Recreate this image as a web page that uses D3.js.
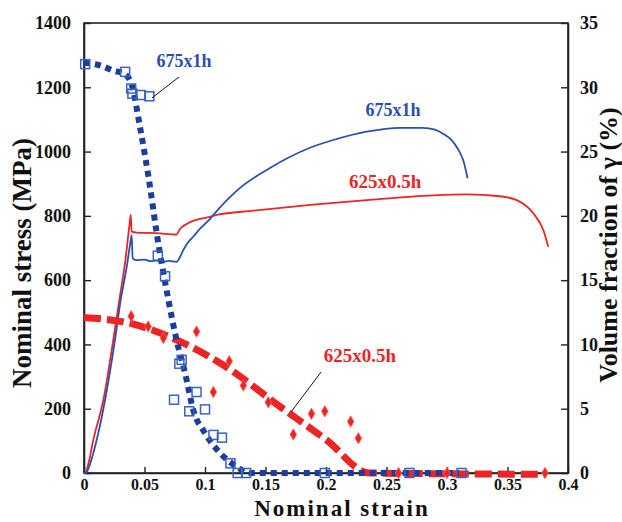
<!DOCTYPE html>
<html><head><meta charset="utf-8">
<script src="https://cdn.jsdelivr.net/npm/d3@7"></script>
<style>
html,body{margin:0;padding:0;background:#fff;}
text{font-family:"Liberation Serif","Times New Roman",serif;font-weight:bold;}
</style></head>
<body>
<svg id="chart" width="622" height="522"></svg>
<script>
// ---- data ----
const xTicks = [0,0.05,0.1,0.15,0.2,0.25,0.3,0.35,0.4];
const xTickLabels = ["0","0.05","0.1","0.15","0.2","0.25","0.3","0.35","0.4"];
const yTicks = [0,200,400,600,800,1000,1200,1400];
const y2Ticks = [0,5,10,15,20,25,30,35];

// stress-strain curve 675x1h [strain, MPa]
const stress675 = [[0,0],[0.002,2],[0.006,40],[0.0105,103],[0.0174,227],[0.0256,414],[0.0303,538],[0.0353,641],[0.0386,724],[0.0394,740],[0.0402,668],[0.0436,662],[0.05,664],[0.055,659],[0.06,661],[0.065,657],[0.07,660],[0.0766,657],[0.0788,668],[0.0821,694],[0.0849,712],[0.0903,735],[0.0959,760],[0.104,790],[0.1097,815],[0.129,887],[0.151,943],[0.1868,1012],[0.206,1036],[0.2336,1062],[0.2612,1074],[0.28,1074],[0.29,1068],[0.297,1055],[0.304,1035],[0.309,1008],[0.3135,972],[0.317,917]];
// stress-strain curve 625x0.5h
const stress625 = [[0,0],[0.001,0],[0.004,35],[0.0077,103],[0.016,227],[0.0242,414],[0.0292,538],[0.0339,653],[0.0374,766],[0.0386,803],[0.0394,751],[0.0436,748],[0.06,746],[0.0766,742],[0.0793,759],[0.0849,775],[0.095,790],[0.104,797],[0.1097,803],[0.14,816],[0.187,834],[0.2336,849],[0.2887,864],[0.3163,867],[0.3438,861],[0.3576,849],[0.3713,808],[0.3796,756],[0.3837,704]];

// retained austenite fit lines [strain, %]
const fit675 = [[0,31.9],[0.0132,31.7],[0.0242,31.3],[0.034,31.0],[0.0394,30.2],[0.0463,26.9],[0.0545,22.3],[0.060,18.7],[0.0697,13.5],[0.0766,10.3],[0.0835,7.8],[0.0903,4.9],[0.100,3.1],[0.1124,1.56],[0.126,0.5],[0.137,0],[0.31,0]];
const fit625 = [[0,12.1],[0.04,11.6],[0.08,10.2],[0.12,8.1],[0.16,5.3],[0.2,2.6],[0.236,0],[0.382,-0.1]];

// measured austenite fractions
const meas675 = [[0.001,31.8],[0.034,31.2],[0.039,29.9],[0.040,29.5],[0.047,29.4],[0.054,29.3],[0.061,16.9],[0.067,15.3],[0.0744,5.7],[0.0788,8.5],[0.0807,8.8],[0.087,4.8],[0.093,6.3],[0.100,4.95],[0.107,2.96],[0.114,2.75],[0.121,0.75],[0.127,0],[0.134,0],[0.199,0],[0.269,0],[0.312,0]];
const meas625 = [[0.039,12.2],[0.053,11.4],[0.0656,10.5],[0.093,11.0],[0.1069,6.3],[0.120,8.7],[0.1317,6.8],[0.1523,5.5],[0.173,3.0],[0.188,4.6],[0.199,4.8],[0.2204,4.0],[0.2267,2.7],[0.26,0],[0.30,0],[0.381,0]];

// annotations
const labels = [
  {text:"675x1h", x:0.0826, y:1262, color:"#2b4fb0", size:18},
  {text:"675x1h", x:0.2554, y:1111, color:"#2b4fb0", size:18},
  {text:"625x0.5h", x:0.2488, y:887, color:"#ee2424", size:19},
  {text:"625x0.5h", x:0.228, y:345, color:"#ee2424", size:19}
];
const leaders = [
  [[0.0785,1232],[0.0562,1167]],
  [[0.1959,314],[0.1711,190]]
];

// ---- layout ----
const L=84, R=568, T=23, B=473;
const svg = d3.select("#chart");
const x = d3.scaleLinear().domain([0,0.4]).range([L,R]);
const y = d3.scaleLinear().domain([0,1400]).range([B,T]);
const y2 = d3.scaleLinear().domain([0,35]).range([B,T]);

const blue="#2b4fb0", red="#ee2424", darkBlue="#1d3d9e";

// frame
svg.append("rect").attr("x",L).attr("y",T).attr("width",R-L).attr("height",B-T)
  .attr("fill","none").attr("stroke","#222").attr("stroke-width",1.6);

// axes
const ax = svg.append("g").attr("transform",`translate(0,${B})`)
  .call(d3.axisBottom(x).tickValues(xTicks).tickFormat((d,i)=>xTickLabels[i]).tickSizeInner(-6).tickSizeOuter(0).tickPadding(6));
const ay = svg.append("g").attr("transform",`translate(${L},0)`)
  .call(d3.axisLeft(y).tickValues(yTicks).tickFormat(d3.format("d")).tickSizeInner(-7).tickSizeOuter(0).tickPadding(13));
const ay2 = svg.append("g").attr("transform",`translate(${R},0)`)
  .call(d3.axisRight(y2).tickValues(y2Ticks).tickFormat(d3.format("d")).tickSizeInner(-7).tickSizeOuter(0).tickPadding(12));
[ax,ay,ay2].forEach(g=>{
  g.select(".domain").attr("stroke","#222").attr("stroke-width",1.6);
  g.selectAll(".tick line").attr("stroke","#222").attr("stroke-width",1.4);
  g.selectAll(".tick text").attr("fill","#111").style("font-size","18px")
   .style("font-family","'Liberation Serif',serif").style("font-weight","bold");
});
ax.selectAll(".tick text").style("font-size","16px");

// stress curves
const lineS = d3.line().x(d=>x(d[0])).y(d=>y(d[1])).curve(d3.curveMonotoneX);
svg.append("path").datum(stress625).attr("d",lineS).attr("fill","none").attr("stroke",red).attr("stroke-width",1.8);
svg.append("path").datum(stress675).attr("d",lineS).attr("fill","none").attr("stroke",blue).attr("stroke-width",1.8);

// fit lines
const lineV = d3.line().x(d=>x(d[0])).y(d=>y2(d[1])).curve(d3.curveMonotoneX);
svg.append("path").datum(fit625).attr("d",lineV).attr("fill","none").attr("stroke",red)
  .attr("stroke-width",7).attr("stroke-dasharray","17,6");
svg.append("path").datum(fit675).attr("d",lineV).attr("fill","none").attr("stroke",darkBlue)
  .attr("stroke-width",6).attr("stroke-dasharray","6,5");

// measured markers
svg.append("g").selectAll("path").data(meas625).join("path")
  .attr("transform",d=>`translate(${x(d[0])},${y2(d[1])})`)
  .attr("d",d3.symbol(d3.symbolDiamond,38)())
  .attr("fill",red).attr("stroke","#f66").attr("stroke-width",0.8);
svg.append("g").selectAll("rect").data(meas675).join("rect")
  .attr("x",d=>x(d[0])-4.5).attr("y",d=>y2(d[1])-4.5).attr("width",9).attr("height",9)
  .attr("fill","none").attr("stroke","#3a62c4").attr("stroke-width",1.5);

// leader lines
leaders.forEach(l=>{
  svg.append("line").attr("x1",x(l[0][0])).attr("y1",y(l[0][1])).attr("x2",x(l[1][0])).attr("y2",y(l[1][1]))
    .attr("stroke","#111").attr("stroke-width",1);
});
// labels
labels.forEach(t=>{
  svg.append("text").attr("x",x(t.x)).attr("y",y(t.y)).attr("text-anchor","middle")
    .attr("fill",t.color).style("font-size",t.size+"px").text(t.text);
});

// axis titles
svg.append("text").attr("x",(L+R)/2+16).attr("y",516).attr("text-anchor","middle")
  .style("font-size","23px").style("letter-spacing","2px").attr("fill","#111").text("Nominal strain");
svg.append("text").attr("transform","translate(31,263) rotate(-90)").attr("text-anchor","middle")
  .style("font-size","27px").attr("fill","#111").text("Nominal stress (MPa)");
svg.append("text").attr("transform","translate(617,245) rotate(-90)").attr("text-anchor","middle")
  .style("font-size","26px").attr("fill","#111").text("Volume fraction of γ (%)");
</script>
</body></html>
